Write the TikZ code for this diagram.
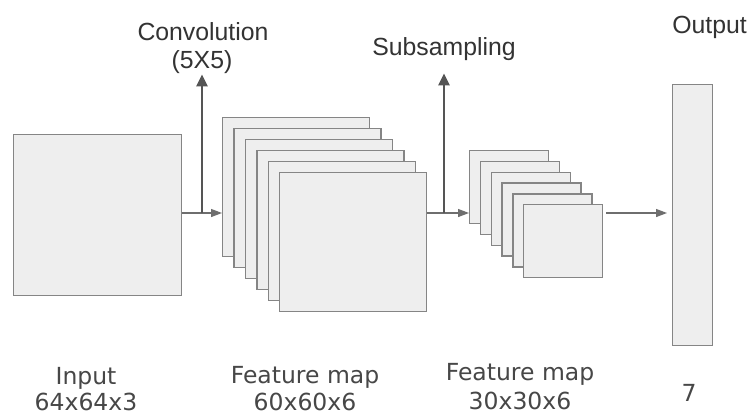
\documentclass[tikz,border=0pt]{standalone}
\usepackage{fontspec}
\setmainfont{Liberation Sans}
\newfontfamily\dvfont{DejaVu Sans}
\usetikzlibrary{arrows.meta}
\definecolor{boxfill}{HTML}{EEEEEE}
\definecolor{boxline}{HTML}{858585}
\definecolor{arrowgray}{HTML}{555555}
\definecolor{txtgray}{HTML}{333333}
\tikzset{
  fm/.style={draw=boxline, fill=boxfill, line width=1.4pt, inner sep=0pt, anchor=north west},
  toplabel/.style={inner sep=0pt, anchor=base, text=txtgray, font=\fontsize{24.8}{28}\selectfont},
  botlabel/.style={inner sep=0pt, anchor=base, text=txtgray!90!white, font=\dvfont\fontsize{23.5}{28}\selectfont},
  hline/.style={draw=arrowgray!85!white, line width=1.2pt, -{Triangle[length=11pt,width=8pt]}},
  varrow/.style={draw=arrowgray, line width=2.6pt, -{Triangle[length=12pt,width=11pt]}}
}
\begin{document}
\begin{tikzpicture}[x=1pt,y=-1pt]
\useasboundingbox (0,0) rectangle (752,416);
\fill[white] (0,0) rectangle (752,416);

% input
\node[fm, minimum width=168pt, minimum height=161pt] (in) at (13,134) {};

% feature map 60x60x6
\foreach \i in {1,...,6} {
  \node[fm, minimum width=147pt, minimum height=139pt] (f\i) at ({222+11.4*(\i-1)},{117+11*(\i-1)}) {};
}

% feature map 30x30x6
\foreach \i in {1,...,6} {
  \node[fm, minimum width=79pt, minimum height=73pt] (s\i) at ({469+10.8*(\i-1)},{150+10.8*(\i-1)}) {};
}

% output
\node[fm, minimum width=40pt, minimum height=261pt] (out) at (672,84) {};

% top labels
\node[toplabel] (conv1) at (203,40) {Convolution};
\node[toplabel] (conv2) at (202,68) {(5X5)};
\node[toplabel] (sub) at (444,55) {Subsampling};
\node[toplabel] (outl) at (709.5,33) {Output};

% bottom labels
\node[botlabel] (inl1) at (86,384) {Input};
\node[botlabel] (inl2) at (86,410.5) {64x64x3};
\node[botlabel] (fa1) at (305,383) {Feature map};
\node[botlabel] (fa2) at (305,410.5) {60x60x6};
\node[botlabel] (fb1) at (520,380) {Feature map};
\node[botlabel] (fb2) at (520,409) {30x30x6};
\node[botlabel] (ol) at (689,401) {7};

% connectors
\coordinate (j1) at (202,213);
\coordinate (j2) at (444,213);
\coordinate (j3) at (640,213);
\draw[hline] (in.east |- j1) -- (f1.west |- j1);
\draw[varrow] (j1) -- ([yshift=-1pt]conv2.south);
\draw[hline] (f6.east |- j2) -- (s1.west |- j2);
\draw[varrow, shorten >=13pt] (j2) -- (sub.south);
\draw[hline, shorten <=3pt, shorten >=5pt] (s6.east |- j3) -- (out.west |- j3);
\end{tikzpicture}
\end{document}
